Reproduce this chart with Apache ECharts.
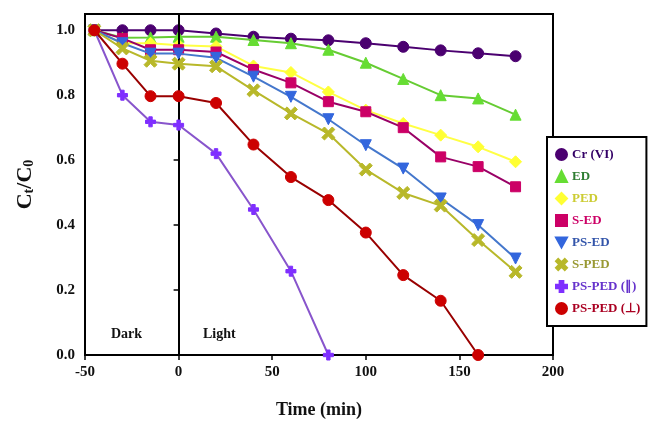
<!DOCTYPE html>
<html>
<head>
<meta charset="utf-8">
<script src="https://cdn.jsdelivr.net/npm/echarts@6/dist/echarts.min.js"></script>
<style>
  html, body { margin: 0; padding: 0; background: #fff; }
  #chart { width: 653px; height: 426px; }
</style>
</head>
<body>
<div id="chart"></div>
<script>
const times = [-45, -30, -15, 0, 20, 40, 60, 80, 100, 120, 140, 160, 180];
const xTicks = [-50, 0, 50, 100, 150, 200];
const yTicks = [0, 0.2, 0.4, 0.6, 0.8, 1.0];

const crVI   = [1.0, 1.0, 1.0, 1.0, 0.99, 0.98, 0.974, 0.969, 0.96, 0.949, 0.938, 0.929, 0.92];
const ed     = [1.0, 0.977, 0.978, 0.98, 0.98, 0.97, 0.96, 0.94, 0.90, 0.85, 0.80, 0.79, 0.74];
const ped    = [1.0, 0.96, 0.96, 0.954, 0.95, 0.89, 0.87, 0.81, 0.754, 0.713, 0.677, 0.641, 0.595];
const sEd    = [1.0, 0.975, 0.94, 0.94, 0.933, 0.879, 0.838, 0.78, 0.749, 0.70, 0.61, 0.58, 0.518];
const psEd   = [1.0, 0.96, 0.928, 0.928, 0.915, 0.857, 0.795, 0.726, 0.646, 0.574, 0.482, 0.40, 0.297];
const sPed   = [1.0, 0.944, 0.906, 0.897, 0.889, 0.815, 0.744, 0.682, 0.571, 0.499, 0.46, 0.354, 0.256];
const psPedPar  = [1.0, 0.80, 0.718, 0.708, 0.62, 0.448, 0.258, 0.0];
const psPedPerp = [1.0, 0.897, 0.797, 0.797, 0.776, 0.648, 0.548, 0.477, 0.377, 0.246, 0.167, 0.0];

const names = ['Cr (VI)', 'ED', 'PED', 'S-ED', 'PS-ED', 'S-PED', 'PS-PED (\u2225)', 'PS-PED (\u22A5)'];
const values = [crVI, ed, ped, sEd, psEd, sPed, psPedPar, psPedPerp];
const markerColors = ['#4b0070', '#66dd33', '#ffff33', '#cc0066', '#3366dd', '#b8b82a', '#7f2fff', '#cc0000'];
const lineColors   = ['#4b0070', '#66cc33', '#ffff44', '#990066', '#4477cc', '#b8b82a', '#8855cc', '#990000'];
const textColors   = ['#330066', '#2e7d32', '#cccc33', '#cc0066', '#3355aa', '#999933', '#6633cc', '#aa0022'];
const symbols = [
  'circle',
  'triangle',
  'diamond',
  'rect',
  'path://M0,0 L10,0 L5,9 Z',
  'path://M0,2 L2,0 L5,3 L8,0 L10,2 L7,5 L10,8 L8,10 L5,7 L2,10 L0,8 L3,5 Z',
  'path://M3.3,0 H6.7 V3.3 H10 V6.7 H6.7 V10 H3.3 V6.7 H0 V3.3 H3.3 Z',
  'circle'
];
const symbolSizes = [11, 11, 12, 10, 11, 13, 10, 11];

const font = 'Liberation Serif, Times New Roman, serif';

const series = values.map((vals, i) => ({
  name: names[i],
  type: 'line',
  data: vals.map((v, j) => [times[j], v]),
  symbol: symbols[i],
  symbolSize: symbolSizes[i],
  lineStyle: { color: lineColors[i], width: 2 },
  itemStyle: { color: markerColors[i], borderColor: markerColors[i], borderWidth: 1 },
  z: 2 + i
}));

// vertical dark/light divider at t = 0
series[0].markLine = {
  silent: true,
  symbol: ['none', 'none'],
  label: { show: false },
  lineStyle: { color: '#000', width: 2, type: 'solid' },
  data: [{ xAxis: 0 }]
};

const chart = echarts.init(document.getElementById('chart'));
chart.setOption({
  animation: false,
  backgroundColor: '#fff',
  grid: {
    left: 85, right: 100, top: 14, bottom: 71,
    show: true, borderColor: '#000', borderWidth: 2
  },
  xAxis: {
    type: 'value',
    min: -50, max: 200, interval: 50,
    name: 'Time (min)',
    nameLocation: 'middle',
    nameGap: 46,
    nameTextStyle: { fontFamily: font, fontWeight: 'bold', fontSize: 18, color: '#111' },
    axisLine: { lineStyle: { color: '#000', width: 2 } },
    axisTick: { inside: false, length: 5, lineStyle: { color: '#000', width: 1.5 } },
    splitLine: { show: false },
    axisLabel: {
      fontFamily: font, fontWeight: 'bold', fontSize: 15, color: '#111', margin: 10,
      formatter: v => xTicks.includes(v) ? String(v) : ''
    }
  },
  yAxis: {
    type: 'value',
    min: 0, max: 1.05, interval: 0.2,
    name: 'C{sub|t}/C{sub|0}',
    nameLocation: 'middle',
    nameGap: 49,
    nameRotate: 90,
    nameTextStyle: {
      fontFamily: font, fontWeight: 'bold', fontSize: 22, color: '#111',
      rich: {
        sub: { fontFamily: font, fontWeight: 'bold', fontSize: 14, color: '#111', verticalAlign: 'bottom', padding: [8, 0, 0, 0] }
      }
    },
    axisLine: { lineStyle: { color: '#000', width: 2 } },
    axisTick: { inside: false, length: 5, lineStyle: { color: '#000', width: 1.5 } },
    splitLine: { show: false },
    axisLabel: {
      fontFamily: font, fontWeight: 'bold', fontSize: 15, color: '#111', margin: 10,
      formatter: v => yTicks.some(t => Math.abs(t - v) < 1e-6) ? v.toFixed(1) : ''
    }
  },
  legend: {
    orient: 'vertical',
    left: 547, top: 137,
    width: 100,
    padding: [11, 6, 11, 8],
    itemGap: 9,
    itemWidth: 11,
    itemHeight: 11,
    backgroundColor: '#fff',
    borderColor: '#000',
    borderWidth: 2,
    textStyle: { fontFamily: font, fontWeight: 'bold', fontSize: 13 },
    data: names.map((n, i) => ({
      name: n,
      icon: symbols[i],
      itemStyle: { color: markerColors[i] },
      textStyle: { color: textColors[i] }
    }))
  },
  graphic: [
    { type: 'text', left: 111, top: 327, style: { text: 'Dark', fontFamily: font, fontWeight: 'bold', fontSize: 14, fill: '#111' } },
    { type: 'text', left: 203, top: 327, style: { text: 'Light', fontFamily: font, fontWeight: 'bold', fontSize: 14, fill: '#111' } }
  ],
  series: series
});
</script>
</body>
</html>
